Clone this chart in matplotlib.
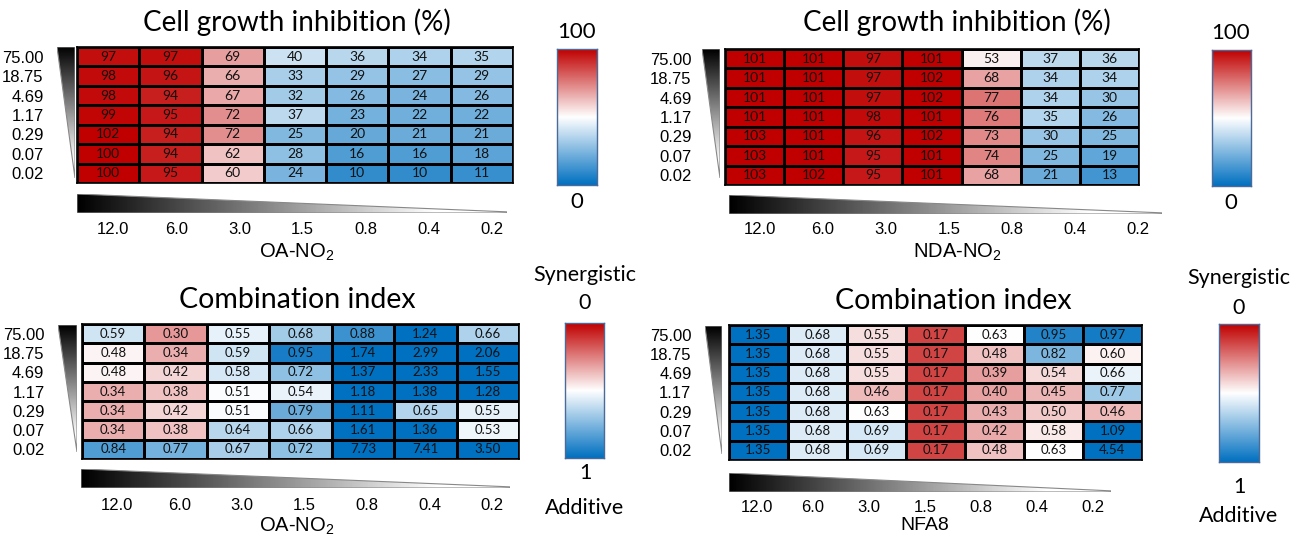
import numpy as np
import matplotlib
matplotlib.use('Agg')
import matplotlib.pyplot as plt
from matplotlib.colors import LinearSegmentedColormap, TwoSlopeNorm
from matplotlib.patches import Polygon

plt.rcParams['font.family'] = ['Liberation Sans', 'DejaVu Sans']
plt.rcParams['mathtext.default'] = 'regular'

# concentrations (rows) and drug concentrations (columns)
row_labels = ['75.00', '18.75', '4.69', '1.17', '0.29', '0.07', '0.02']
col_labels = ['12.0', '6.0', '3.0', '1.5', '0.8', '0.4', '0.2']

# cell growth inhibition (%)
gi_oa = [[97, 97, 69, 40, 36, 34, 35],
         [98, 96, 66, 33, 29, 27, 29],
         [98, 94, 67, 32, 26, 24, 26],
         [99, 95, 72, 37, 23, 22, 22],
         [102, 94, 72, 25, 20, 21, 21],
         [100, 94, 62, 28, 16, 16, 18],
         [100, 95, 60, 24, 10, 10, 11]]

gi_nda = [[101, 101, 97, 101, 53, 37, 36],
          [101, 101, 97, 102, 68, 34, 34],
          [101, 101, 97, 102, 77, 34, 30],
          [101, 101, 98, 101, 76, 35, 26],
          [103, 101, 96, 102, 73, 30, 25],
          [103, 101, 95, 101, 74, 25, 19],
          [103, 102, 95, 101, 68, 21, 13]]

# combination index
ci_oa = [[0.59, 0.30, 0.55, 0.68, 0.88, 1.24, 0.66],
         [0.48, 0.34, 0.59, 0.95, 1.74, 2.99, 2.06],
         [0.48, 0.42, 0.58, 0.72, 1.37, 2.33, 1.55],
         [0.34, 0.38, 0.51, 0.54, 1.18, 1.38, 1.28],
         [0.34, 0.42, 0.51, 0.79, 1.11, 0.65, 0.55],
         [0.34, 0.38, 0.64, 0.66, 1.61, 1.36, 0.53],
         [0.84, 0.77, 0.67, 0.72, 7.73, 7.41, 3.50]]

ci_nfa = [[1.35, 0.68, 0.55, 0.17, 0.63, 0.95, 0.97],
          [1.35, 0.68, 0.55, 0.17, 0.48, 0.82, 0.60],
          [1.35, 0.68, 0.55, 0.17, 0.39, 0.54, 0.66],
          [1.35, 0.68, 0.46, 0.17, 0.40, 0.45, 0.77],
          [1.35, 0.68, 0.63, 0.17, 0.43, 0.50, 0.46],
          [1.35, 0.68, 0.69, 0.17, 0.42, 0.58, 1.09],
          [1.35, 0.68, 0.69, 0.17, 0.48, 0.63, 4.54]]

W, H = 1291, 535
fig = plt.figure(figsize=(W / 100, H / 100), dpi=100)

cmap_gi = LinearSegmentedColormap.from_list('gi', ['#0070C0', '#FFFFFF', '#C00000'])
cmap_ci = cmap_gi.reversed()
TFONT = 'Lato'


def px_axes(x0, y0, x1, y1):
    return fig.add_axes([x0 / W, 1 - y1 / H, (x1 - x0) / W, (y1 - y0) / H])


def ftext(x, y, s, **kw):
    fig.text(x / W, 1 - y / H, s, **kw)


def heatmap(box, data, cmap, norm, fmt, pad, fs):
    ax = px_axes(*box)
    arr = np.array(data, dtype=float)
    ax.pcolormesh(arr, cmap=cmap, norm=norm, edgecolors='black', linewidth=0.9)
    for i in range(arr.shape[0]):
        for j in range(arr.shape[1]):
            ax.text(j + 0.5, i + 0.5, fmt.format(arr[i, j]), ha='center', va='center',
                    fontsize=fs, family=TFONT, color='#111111')
    ax.set_xlim(0, arr.shape[1])
    ax.set_ylim(arr.shape[0], 0)
    ax.set_xticks([])
    ax.set_yticks(np.arange(len(row_labels)) + 0.5, row_labels)
    ax.tick_params(axis='y', length=0, pad=pad, labelsize=12)
    for s in ax.spines.values():
        s.set_linewidth(1.2)
    return ax


def triangle(box):
    ax = px_axes(*box)
    ax.set_xlim(0, 1)
    ax.set_ylim(0, 1)
    ax.axis('off')
    grad = np.clip(np.linspace(1.15, 0, 256), 0, 1)[:, None]
    im = ax.imshow(grad, extent=[0, 1, 0, 1], origin='lower', aspect='auto',
                   cmap='gray', vmin=0, vmax=1)
    poly = Polygon([(0, 1), (1, 1), (1, 0)], closed=True, facecolor='none',
                   edgecolor='#888888', linewidth=0.8, transform=ax.transData)
    ax.add_patch(poly)
    im.set_clip_path(poly)


def wedge(box):
    ax = px_axes(*box)
    ax.set_xlim(0, 1)
    ax.set_ylim(0, 1)
    ax.axis('off')
    grad = np.clip(np.linspace(0, 1.2, 256), 0, 1)[None, :]
    im = ax.imshow(grad, extent=[0, 1, 0, 1], origin='lower', aspect='auto',
                   cmap='gray', vmin=0, vmax=1)
    poly = Polygon([(0, 0), (0, 1), (1, 0.06), (1, 0)], closed=True, facecolor='none',
                   edgecolor='#888888', linewidth=0.8, transform=ax.transData)
    ax.add_patch(poly)
    im.set_clip_path(poly)


def colorbar(box):
    ax = px_axes(*box)
    ax.imshow(np.linspace(0, 1, 256)[:, None], origin='lower', aspect='auto', cmap=cmap_gi,
              extent=[0, 1, 0, 1])
    ax.set_xticks([])
    ax.set_yticks([])
    for s in ax.spines.values():
        s.set_edgecolor('#4A6A9A')
        s.set_linewidth(1.0)


def col_ticks(x_first, x_last, y):
    for lab, x in zip(col_labels, np.linspace(x_first, x_last, len(col_labels))):
        ftext(x, y, lab, ha='center', va='center', fontsize=12)


norm_gi = TwoSlopeNorm(vmin=0, vcenter=50, vmax=100)

# top-left: OA-NO2 growth inhibition
heatmap((77, 47, 513, 183), gi_oa, cmap_gi, norm_gi, '{:.0f}', 24, 10)
triangle((57, 47, 75, 178))
wedge((77, 194, 507, 213))
col_ticks(113, 492, 230)
ftext(297, 252, 'OA-NO$_2$', ha='center', va='center', fontsize=14.5)
ftext(297, 22, 'Cell growth inhibition (%)', ha='center', va='center', fontsize=20, family=TFONT)
colorbar((557, 49, 597, 185))
ftext(577, 32, '100', ha='center', va='center', fontsize=16, family=TFONT)
ftext(577, 202, '0', ha='center', va='center', fontsize=16, family=TFONT)

# top-right: NDA-NO2 growth inhibition
heatmap((725, 49, 1139, 185), gi_nda, cmap_gi, norm_gi, '{:.0f}', 24, 10)
triangle((702, 49, 720, 178))
wedge((729, 195, 1162, 214))
col_ticks(760, 1138, 230)
ftext(957, 252, 'NDA-NO$_2$', ha='center', va='center', fontsize=14.5)
ftext(957, 22, 'Cell growth inhibition (%)', ha='center', va='center', fontsize=20, family=TFONT)
colorbar((1212, 50, 1251, 186))
ftext(1231, 33, '100', ha='center', va='center', fontsize=16, family=TFONT)
ftext(1231, 203, '0', ha='center', va='center', fontsize=16, family=TFONT)

# bottom-left: OA-NO2 combination index
heatmap((82, 324, 519, 459), ci_oa, cmap_ci, TwoSlopeNorm(vmin=0, vcenter=0.5, vmax=1.0),
        '{:.2f}', 27, 9.5)
triangle((58, 325, 77, 452))
wedge((81, 469, 510, 488))
col_ticks(117, 492, 505)
ftext(297, 526, 'OA-NO$_2$', ha='center', va='center', fontsize=14.5)
ftext(297, 300, 'Combination index', ha='center', va='center', fontsize=20.5, family=TFONT)
colorbar((565, 323, 604, 458))
ftext(585, 275, 'Synergistic', ha='center', va='center', fontsize=15.5, family=TFONT)
ftext(585, 303, '0', ha='center', va='center', fontsize=15.5, family=TFONT)
ftext(585, 473, '1', ha='center', va='center', fontsize=15.5, family=TFONT)
ftext(585, 508, 'Additive', ha='center', va='center', fontsize=15.5, family=TFONT)

# bottom-right: NFA8 combination index
heatmap((729, 325, 1142, 460), ci_nfa, cmap_ci, TwoSlopeNorm(vmin=0, vcenter=0.63, vmax=1.0),
        '{:.2f}', 27, 9.5)
triangle((705, 326, 722, 454))
wedge((729, 473, 1111, 492))
col_ticks(757, 1093, 507)
ftext(925, 525, 'NFA8', ha='center', va='center', fontsize=14)
ftext(953, 301, 'Combination index', ha='center', va='center', fontsize=20.5, family=TFONT)
colorbar((1219, 324, 1259, 462))
ftext(1239, 278, 'Synergistic', ha='center', va='center', fontsize=15.5, family=TFONT)
ftext(1239, 308, '0', ha='center', va='center', fontsize=15.5, family=TFONT)
ftext(1239, 487, '1', ha='center', va='center', fontsize=15.5, family=TFONT)
ftext(1239, 516, 'Additive', ha='center', va='center', fontsize=15.5, family=TFONT)

fig.savefig('out.png', dpi=100)
